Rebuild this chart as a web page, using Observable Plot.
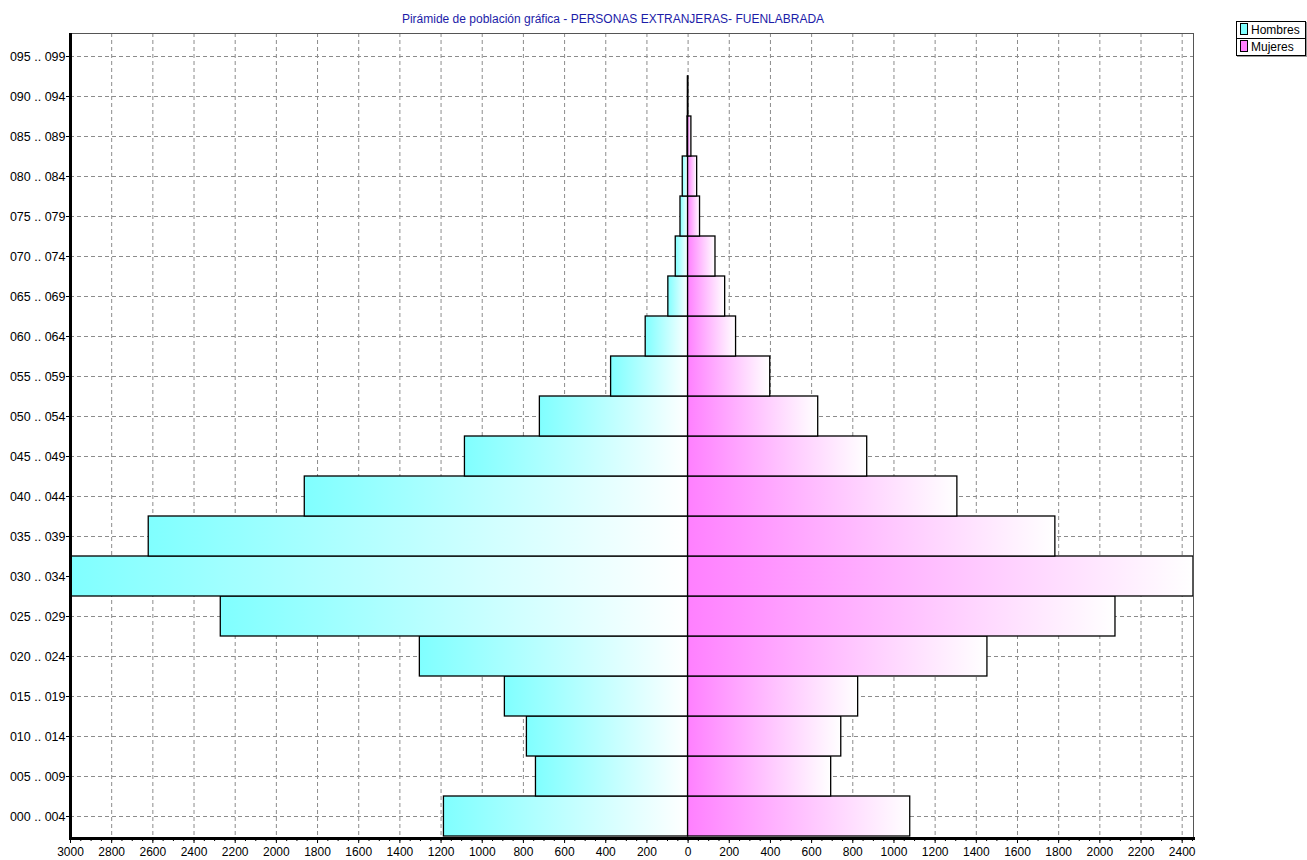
<!DOCTYPE html>
<html>
<head>
<meta charset="utf-8">
<script src="https://cdn.jsdelivr.net/npm/d3@7"></script>
<script src="https://cdn.jsdelivr.net/npm/@observablehq/plot@0.6"></script>
<style>
  html, body { margin: 0; padding: 0; background: #fff; }
  #wrap { position: relative; width: 1307px; height: 860px; overflow: hidden; }
  #title { position: absolute; top: 12px; left: 0; width: 1226px; text-align: center;
    font: 12px "Liberation Sans", Arial, sans-serif; color: #1c1ca8; }
  #legend { position: absolute; top: 21px; left: 1236px; width: 68px; border: 1px solid #000;
    background: #fff; box-shadow: 1px 1px 0 #999; font: 12px "Liberation Sans", Arial, sans-serif; }
  #legend .row { height: 16px; line-height: 16px; padding-left: 3px; white-space: nowrap; }
  #legend .row + .row { border-top: 1px solid #000; }
  #legend .sw { display: inline-block; width: 6px; height: 10px; border: 1px solid #000;
    vertical-align: -1px; margin-right: 3px; }
</style>
</head>
<body>
<div id="wrap">
  <div id="title"></div>
  <div id="legend"></div>
</div>
<script>
const titleText = "Pirámide de población gráfica - PERSONAS EXTRANJERAS- FUENLABRADA";
const ageGroups = ["000 .. 004", "005 .. 009", "010 .. 014", "015 .. 019", "020 .. 024",
  "025 .. 029", "030 .. 034", "035 .. 039", "040 .. 044", "045 .. 049",
  "050 .. 054", "055 .. 059", "060 .. 064", "065 .. 069", "070 .. 074",
  "075 .. 079", "080 .. 084", "085 .. 089", "090 .. 094", "095 .. 099"];
const hombres = [1186, 739, 783, 890, 1303, 2270, 3000, 2620, 1862, 1084, 720, 374, 206, 96, 60, 37, 26, 3, 1, 0];
const mujeres = [1079, 695, 744, 826, 1454, 2076, 2455, 1784, 1308, 870, 632, 399, 233, 180, 133, 58, 44, 16, 1, 0];
const seriesNames = ["Hombres", "Mujeres"];
const seriesColors = ["#80ffff", "#ff80ff"];
const xDomain = [-3000, 2455];
const majorTicks = d3.range(-3000, 2401, 200);
const minorTicks = d3.range(-3000, 2451, 50);

document.getElementById("title").textContent = titleText;
document.getElementById("legend").innerHTML = seriesNames.map((n, i) =>
  `<div class="row"><span class="sw" style="background:${seriesColors[i]}"></span>${n}</div>`).join("");

const rows = ageGroups.map((a, i) => ({age: a, h: hombres[i], m: mujeres[i]}));

function defs() {
  const svg = d3.create("svg:g");
  const d = svg.append("defs");
  [["gradM", seriesColors[0]], ["gradF", seriesColors[1]]].forEach(([id, c]) => {
    const g = d.append("linearGradient").attr("id", id).attr("x1", 0).attr("x2", 1).attr("y1", 0).attr("y2", 0);
    g.append("stop").attr("offset", "0%").attr("stop-color", c);
    g.append("stop").attr("offset", "100%").attr("stop-color", "#ffffff");
  });
  return svg.node();
}

const gridStyle = {stroke: "#8c8c8c", strokeOpacity: 1, strokeDasharray: "4,3", strokeWidth: 1};

const chart = Plot.plot({
  width: 1307,
  height: 860,
  marginLeft: 70,
  marginRight: 114,
  marginTop: 33,
  marginBottom: 22,
  style: {fontFamily: "'Liberation Sans', Arial, sans-serif", fontSize: "12px", color: "#000", background: "#fff"},
  x: {domain: xDomain, axis: null},
  y: {domain: ageGroups.slice().reverse(), padding: 0, axis: null},
  marks: [
    defs,
    Plot.gridX(majorTicks, gridStyle),
    Plot.gridY(ageGroups, gridStyle),
    Plot.barX(rows.filter(d => d.h > 0), {x1: 0, x2: d => -d.h, y: "age", fill: "url(#gradM)", stroke: "#000", strokeWidth: 1.3}),
    Plot.barX(rows.filter(d => d.m > 0), {x1: 0, x2: "m", y: "age", fill: "url(#gradF)", stroke: "#000", strokeWidth: 1.3}),
    Plot.frame({stroke: "#555", strokeWidth: 1}),
    Plot.ruleX([xDomain[0]], {stroke: "#000", strokeWidth: 3}),
    Plot.frame({anchor: "bottom", stroke: "#000", strokeWidth: 3}),
    Plot.axisX(minorTicks, {tickSize: 3, tickFormat: () => "", stroke: "#000", label: null}),
    Plot.axisX(majorTicks, {tickSize: 5, tickPadding: 4, tickFormat: d => String(Math.abs(d)), stroke: "#000", fill: "#000", label: null}),
    Plot.axisY(ageGroups, {tickSize: 4, tickPadding: 1, stroke: "#000", fill: "#000", label: null, fontSize: 12.5})
  ]
});
document.getElementById("wrap").prepend(chart);
</script>
</body>
</html>
